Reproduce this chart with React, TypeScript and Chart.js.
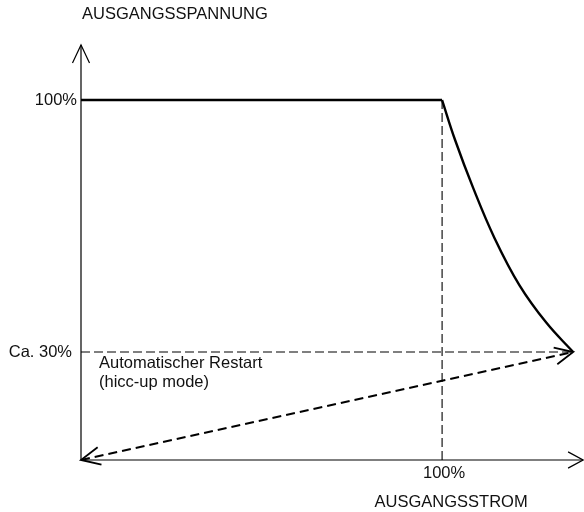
import React, { useEffect, useRef } from "react";
import { Chart, registerables } from "chart.js";

Chart.register(...registerables);

// Data (percent of nominal)
const flatX = [0, 100];
const flatY = [100, 100];
const curveX = [100, 103.6, 108.6, 114.5, 121.4, 128.9, 136.3];
const curveY = [100, 88.9, 75.6, 61.7, 48.6, 38.1, 30];
const restartX = [0, 136.3];
const restartY = [0, 30];
const limitX = [0, 136.3];
const limitY = [30, 30];
const nominalX = [100, 100];
const nominalY = [0, 100];

const X_MAX = 139.3;
const Y_MAX = 115.3;

const yTickLabels = ["100%", "Ca. 30%"];
const xTickLabel = "100%";
const yTitle = "AUSGANGSSPANNUNG";
const xTitle = "AUSGANGSSTROM";
const note = ["Automatischer Restart", "(hicc-up mode)"];

const pts = (xs: number[], ys: number[]) => xs.map((x, i) => ({ x, y: ys[i] }));

const FONT = '16.5px "Liberation Sans", Arial, sans-serif';

function arrow(ctx: CanvasRenderingContext2D, tx: number, ty: number, fx: number, fy: number, len: number, ang: number, lw: number) {
  const a = Math.atan2(fy - ty, fx - tx);
  ctx.save();
  ctx.lineWidth = lw;
  ctx.setLineDash([]);
  ctx.strokeStyle = "#000";
  ctx.beginPath();
  ctx.moveTo(tx + len * Math.cos(a + ang), ty + len * Math.sin(a + ang));
  ctx.lineTo(tx, ty);
  ctx.lineTo(tx + len * Math.cos(a - ang), ty + len * Math.sin(a - ang));
  ctx.stroke();
  ctx.restore();
}

const decor = {
  id: "decor",
  afterDatasetsDraw(chart: any) {
    const ctx: CanvasRenderingContext2D = chart.ctx;
    const xs = chart.scales.x;
    const ys = chart.scales.y;
    const x0 = xs.getPixelForValue(0);
    const y0 = ys.getPixelForValue(0);
    const xEnd = xs.getPixelForValue(X_MAX) - 1;
    const yTop = ys.getPixelForValue(Y_MAX);
    ctx.save();
    ctx.strokeStyle = "#000";
    ctx.lineWidth = 1.2;
    ctx.beginPath();
    ctx.moveTo(x0, y0);
    ctx.lineTo(xEnd, y0);
    ctx.moveTo(x0, y0);
    ctx.lineTo(x0, yTop);
    ctx.stroke();
    arrow(ctx, x0, yTop, x0, y0, 20, 0.44, 1.2);
    arrow(ctx, xEnd, y0, x0, y0, 17, 0.5, 1.2);

    // restart arrows
    const ax = xs.getPixelForValue(restartX[1]);
    const ay = ys.getPixelForValue(restartY[1]);
    arrow(ctx, ax, ay, x0, y0, 20, 0.44, 1.8);
    arrow(ctx, x0, y0, ax, ay, 21, 0.44, 1.8);

    ctx.fillStyle = "#111";
    ctx.font = FONT;
    ctx.textBaseline = "middle";
    ctx.textAlign = "right";
    ctx.fillText(yTickLabels[0], x0 - 4, ys.getPixelForValue(100));
    ctx.fillText(yTickLabels[1], x0 - 9, ys.getPixelForValue(30));
    ctx.textAlign = "center";
    ctx.fillText(xTickLabel, xs.getPixelForValue(100) + 2, y0 + 13);
    ctx.fillText(xTitle, xs.getPixelForValue(100) + 9, y0 + 42);
    ctx.textAlign = "left";
    ctx.fillText(yTitle, x0 + 1, 14);
    const ny = ys.getPixelForValue(30);
    ctx.fillText(note[0], x0 + 18, ny + 11);
    ctx.fillText(note[1], x0 + 18, ny + 30);
    ctx.restore();
  },
};

export default function App() {
  const ref = useRef<HTMLCanvasElement>(null);
  useEffect(() => {
    if (!ref.current) return;
    const chart = new Chart(ref.current, {
      type: "scatter",
      data: {
        datasets: [
          {
            data: pts(nominalX, nominalY),
            showLine: true,
            borderColor: "#000",
            borderWidth: 1.1,
            borderDash: [9, 4],
            pointRadius: 0,
          },
          {
            data: pts(limitX, limitY),
            showLine: true,
            borderColor: "#000",
            borderWidth: 1.1,
            borderDash: [9, 4],
            pointRadius: 0,
          },
          {
            data: pts(restartX, restartY),
            showLine: true,
            borderColor: "#000",
            borderWidth: 2,
            borderDash: [9, 5],
            pointRadius: 0,
          },
          {
            data: pts(flatX, flatY),
            showLine: true,
            borderColor: "#000",
            borderWidth: 2.4,
            pointRadius: 0,
          },
          {
            data: pts(curveX, curveY),
            showLine: true,
            borderColor: "#000",
            borderWidth: 2.4,
            pointRadius: 0,
            tension: 0.4,
          },
        ],
      },
      options: {
        animation: false,
        responsive: false,
        events: [],
        layout: { padding: { left: 81, right: 0, top: 45, bottom: 52 } },
        plugins: { legend: { display: false }, tooltip: { enabled: false } },
        scales: {
          x: { type: "linear", min: 0, max: X_MAX, display: false },
          y: { type: "linear", min: 0, max: Y_MAX, display: false },
        },
      } as any,
      plugins: [decor],
    });
    return () => chart.destroy();
  }, []);
  return (
    <div style={{ position: "fixed", left: 0, top: 0, width: 584, height: 512, background: "#fff" }}>
      <canvas ref={ref} width={584} height={512} style={{ display: "block" }} />
    </div>
  );
}
